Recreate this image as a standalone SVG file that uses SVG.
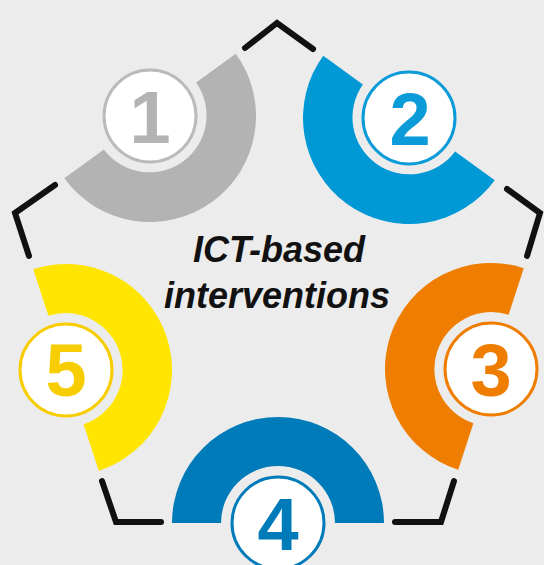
<svg xmlns="http://www.w3.org/2000/svg" width="544" height="565" viewBox="0 0 544 565">
  <style>
    .conn { fill: none; stroke: #111111; stroke-width: 6; stroke-linecap: round; stroke-linejoin: miter; }
    .disc { fill: #ffffff; stroke-width: 3; }
    .num { font-family: "Liberation Sans", Arial, sans-serif; font-weight: bold; font-size: 74px; text-anchor: middle; }
    .title { font-family: "Liberation Sans", Arial, sans-serif; font-weight: bold; font-style: italic; font-size: 36px; text-anchor: middle; fill: #111111; }
  </style>
  <rect x="0" y="0" width="544" height="565" fill="#ececec"/>

  <g id="connectors">
    <polyline class="conn" points="245,48 277,23 313,49"/>
    <polyline class="conn" points="507,189 540,213 527,256"/>
    <polyline class="conn" points="454,481 441,522 395,522"/>
    <polyline class="conn" points="102,481 116,522 161,522"/>
    <polyline class="conn" points="55,185 15,213 29,256"/>
  </g>

  <g id="node1">
    <path d="M235.76,53.69 A106,106 0 0 1 64.24,178.31 L103.89,149.50 A57,57 0 0 0 196.11,82.50 Z" fill="#b3b3b3"/>
    <circle class="disc" cx="150" cy="116" r="46" stroke="#bababa"/>
    <text class="num" x="150" y="142.5" fill="#b3b3b3">1</text>
  </g>

  <g id="node2">
    <path d="M494.76,180.31 A106,106 0 0 1 323.24,55.69 L362.89,84.50 A57,57 0 0 0 455.11,151.50 Z" fill="#0098d5"/>
    <circle class="disc" cx="409" cy="118" r="46" stroke="#0b9bd8"/>
    <text class="num" x="410" y="144.5" fill="#0b9bd8">2</text>
  </g>

  <g id="node3">
    <path d="M458.24,469.82 A106,106 0 0 1 523.76,268.18 L508.61,314.79 A57,57 0 0 0 473.39,423.21 Z" fill="#ef7d00"/>
    <circle class="disc" cx="491" cy="369" r="46" stroke="#ef7d00"/>
    <text class="num" x="491" y="395.5" fill="#ef7d00">3</text>
  </g>

  <g id="node4">
    <path d="M172,523 A106,106 0 0 1 384,523 L335,523 A57,57 0 0 0 221,523 Z" fill="#007bb9"/>
    <circle class="disc" cx="278" cy="523" r="46" stroke="#007bb9"/>
    <text class="num" x="278" y="550" fill="#007bb9">4</text>
  </g>

  <g id="node5">
    <path d="M33.24,269.18 A106,106 0 0 1 98.76,470.82 L83.61,424.21 A57,57 0 0 0 48.39,315.79 Z" fill="#ffe500"/>
    <circle class="disc" cx="66" cy="370" r="46" stroke="#f8cd00"/>
    <text class="num" x="66" y="396" fill="#f8cd00">5</text>
  </g>

  <g id="title">
    <text class="title" x="279" y="262">ICT-based</text>
    <text class="title" x="277" y="308">interventions</text>
  </g>
</svg>
